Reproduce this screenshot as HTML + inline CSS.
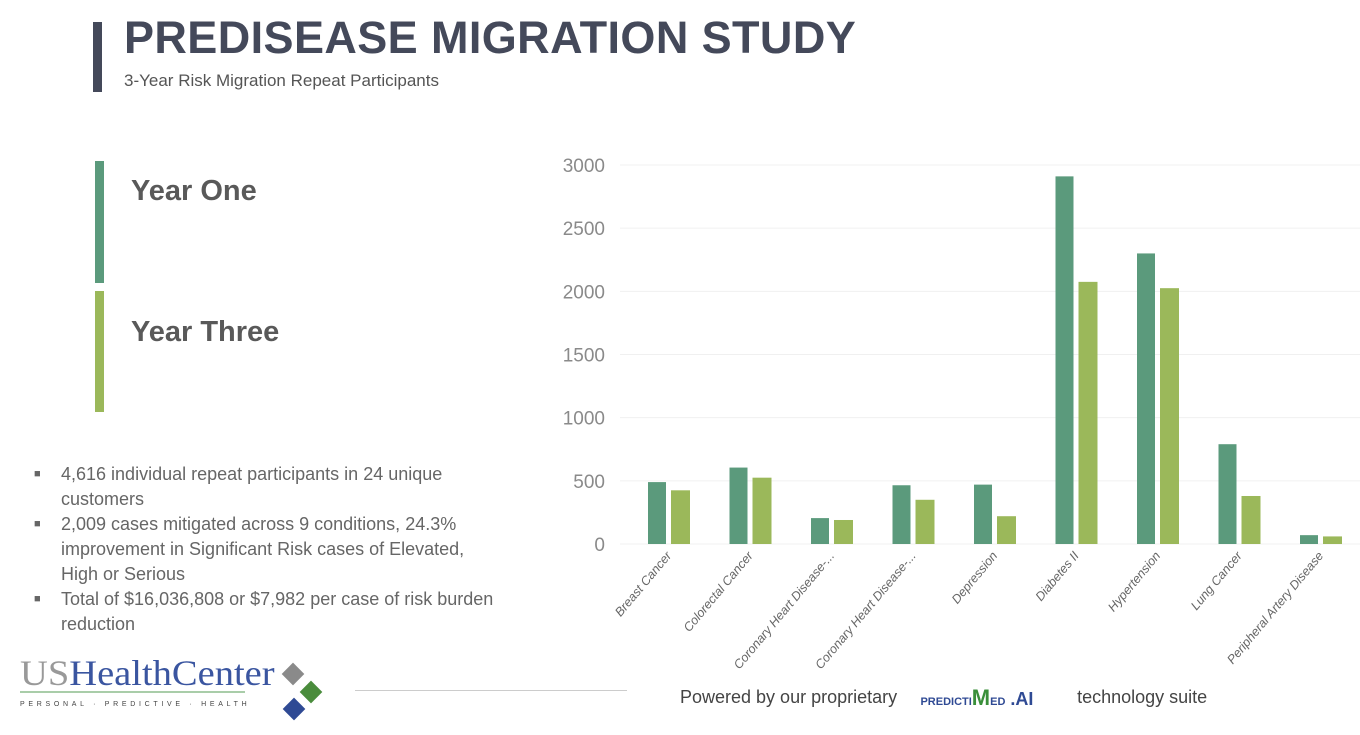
<!DOCTYPE html>
<html><head><meta charset="utf-8"><style>
body{margin:0;width:1360px;height:735px;background:#fff;font-family:"Liberation Sans",sans-serif;position:relative;overflow:hidden}
.a{position:absolute}
</style></head><body>
<div class="a" style="left:93px;top:22px;width:9px;height:70px;background:#44495a"></div>
<div class="a" style="left:124px;top:12px;font-size:45px;font-weight:bold;color:#44495a;letter-spacing:0.4px">PREDISEASE MIGRATION STUDY</div>
<div class="a" style="left:124px;top:71px;font-size:17px;color:#555">3-Year Risk Migration Repeat Participants</div>
<div class="a" style="left:95px;top:161px;width:9px;height:122px;background:#5b9a7c"></div>
<div class="a" style="left:131px;top:175px;font-size:29px;font-weight:bold;color:#595959">Year One</div>
<div class="a" style="left:95px;top:291px;width:9px;height:121px;background:#9bb85a"></div>
<div class="a" style="left:131px;top:316px;font-size:29px;font-weight:bold;color:#595959">Year Three</div>
<div class="a" style="left:34px;top:462px;width:465px;font-size:18px;line-height:25px;color:#666">
<div style="padding-left:27px;position:relative"><span style="position:absolute;left:0;font-size:11px">■</span>4,616 individual repeat participants in 24 unique customers</div>
<div style="padding-left:27px;position:relative"><span style="position:absolute;left:0;font-size:11px">■</span>2,009 cases mitigated across 9 conditions, 24.3% improvement in Significant Risk cases of Elevated, High or Serious</div>
<div style="padding-left:27px;position:relative"><span style="position:absolute;left:0;font-size:11px">■</span>Total of $16,036,808 or $7,982 per case of risk burden reduction</div>
</div>
<div class="a" style="left:20px;top:655px;width:310px;height:70px">
<div class="a" style="left:0;top:-3px;font-family:'Liberation Serif',serif;font-size:36px;color:#3a55a0;letter-spacing:0px;transform:scaleX(1.07);transform-origin:left"><span style="color:#999">US</span>HealthCenter</div>
<div class="a" style="left:0;top:36px;width:225px;height:2px;background:#a9cda9"></div>
<div class="a" style="left:0;top:46px;font-size:7px;letter-spacing:3.7px;color:#444">PERSONAL · PREDICTIVE · HEALTH</div>
<div class="a" style="left:265px;top:11px;width:16px;height:16px;background:#8a8a8a;transform:rotate(45deg)"></div>
<div class="a" style="left:283px;top:29px;width:16px;height:16px;background:#4a8c3c;transform:rotate(45deg)"></div>
<div class="a" style="left:266px;top:46px;width:16px;height:16px;background:#2f4a94;transform:rotate(45deg)"></div>
</div>
<div class="a" style="left:355px;top:690px;width:272px;height:1px;background:#ccc"></div>
<div class="a" style="left:680px;top:685px;font-size:18px;color:#444;white-space:nowrap">Powered by our proprietary <span style="display:inline-block;width:170px;color:#3a8f3a;font-size:11px;font-weight:bold;vertical-align:middle"><span style="color:#2f4a94">&nbsp;&nbsp;&nbsp;&nbsp;&nbsp;&nbsp;PREDICTI</span><span style="font-size:22px">M</span><span style="color:#2f4a94">ED</span><span style="color:#2f4a94;font-size:18px"> .AI</span></span> technology suite</div>
<svg class="a" style="left:0;top:0" width="1360" height="735">
<g id="g"></g></svg>
<script>
const categories=["Breast Cancer","Colorectal Cancer","Coronary Heart Disease-...","Coronary Heart Disease-...","Depression","Diabetes II","Hypertension","Lung Cancer","Peripheral Artery Disease"];
const yearOne=[490,605,205,465,470,2910,2300,790,70];
const yearThree=[425,525,190,350,220,2075,2025,380,60];
const ticks=[0,500,1000,1500,2000,2500,3000];
const g=document.getElementById('g');const ns='http://www.w3.org/2000/svg';
const y=v=>544-v*(379/3000);const cx=i=>669+i*81.5;
function mk(t,a){const e=document.createElementNS(ns,t);for(const k in a)e.setAttribute(k,a[k]);g.appendChild(e);return e;}
ticks.forEach(t=>{const l=mk('line',{x1:620,x2:1360,y1:y(t),y2:y(t),stroke:'#f0f0f0'});


const tx=mk('text',{x:605,y:y(t)+7,'text-anchor':'end','font-size':19,fill:'#8a8a8a','font-family':'Liberation Sans'});tx.textContent=t;

});
categories.forEach((c,i)=>{
const b1=mk('rect',{x:cx(i)-21,y:y(yearOne[i]),width:18,height:544-y(yearOne[i]),fill:'#5b9a7c'});


const b2=mk('rect',{x:cx(i)+2,y:y(yearThree[i]),width:19,height:544-y(yearThree[i]),fill:'#9bb85a'});


const tx=mk('text',{x:cx(i)+3,y:556,'text-anchor':'end','font-size':12.5,'font-style':'italic',fill:'#666','font-family':'Liberation Sans',transform:`rotate(-50 ${cx(i)+3} 556)`});tx.textContent=c;

});
</script>
</body></html>
